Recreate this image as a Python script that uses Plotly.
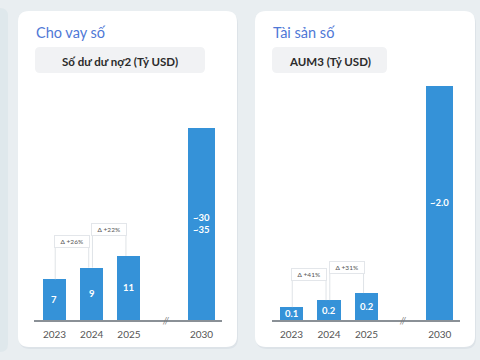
import plotly.graph_objects as go

# ---------------- data ----------------
years = ["2023", "2024", "2025", "2030"]
x_pos = [0, 1, 2, 3.95]

loan_values = [7, 9, 11, 33]
loan_labels = ["7", "9", "11", "~30<br>~35"]
loan_deltas = ["Δ +26%", "Δ +22%"]

aum_values = [0.11, 0.17, 0.23, 2.0]
aum_labels = ["0.1", "0.2", "0.2", "~2.0"]
aum_deltas = ["Δ +41%", "Δ +31%"]

titles = ["Cho vay số", "Tài sản số"]
subtitles = ["Số dư dư nợ2 (Tỷ USD)", "AUM3 (Tỷ USD)"]

# ---------------- layout constants ----------------
W, H = 480, 360
BG = "#e9eef1"
BAR = "#3592d8"
FONT = "Lato"

y_dom = [40 / H, 1 - 80 / H]
dom_px = (y_dom[1] - y_dom[0]) * H
panels = [
    dict(values=loan_values, labels=loan_labels, deltas=loan_deltas,
         xdom=[34 / W, 222 / W], xr=[-0.55, 4.5], yr=[0, 41.2],
         card=[18, 237], title_x=35, sub=[35, 205]),
    dict(values=aum_values, labels=aum_labels, deltas=aum_deltas,
         xdom=[272 / W, 460 / W], xr=[-0.52, 4.49], yr=[0, 2.05],
         card=[255, 475], title_x=272, sub=[272, 387]),
]

fig = go.Figure()
shapes = []
annotations = []


def rounded(x0, y0, x1, y1, r):
    # pixel coords from top-left -> paper coords
    def P(x, y):
        return f"{x / W:.5f},{1 - y / H:.5f}"
    return (f"M {P(x0 + r, y0)} L {P(x1 - r, y0)} Q {P(x1, y0)} {P(x1, y0 + r)} "
            f"L {P(x1, y1 - r)} Q {P(x1, y1)} {P(x1 - r, y1)} "
            f"L {P(x0 + r, y1)} Q {P(x0, y1)} {P(x0, y1 - r)} "
            f"L {P(x0, y0 + r)} Q {P(x0, y0)} {P(x0 + r, y0)} Z")


# partial card at far left
shapes.append(dict(type="path", xref="paper", yref="paper",
                   path=rounded(-30, 8, 8, 352, 8),
                   fillcolor="#dfe8ec", line=dict(width=0), layer="below"))

for i, p in enumerate(panels):
    ax = "" if i == 0 else str(i + 1)
    xa, ya = "x" + ax, "y" + ax
    cx0, cx1 = p["card"]
    # card
    shapes.append(dict(type="path", xref="paper", yref="paper",
                       path=rounded(cx0 + 1, 13, cx1 + 1, 349, 11),
                       fillcolor="#dde3e8", line=dict(width=0), layer="below"))
    shapes.append(dict(type="path", xref="paper", yref="paper",
                       path=rounded(cx0, 11, cx1, 347, 11),
                       fillcolor="white", line=dict(width=0), layer="below"))
    # subtitle box
    sx0, sx1 = p["sub"]
    shapes.append(dict(type="path", xref="paper", yref="paper",
                       path=rounded(sx0, 47, sx1, 73, 5),
                       fillcolor="#f1f2f4", line=dict(width=0), layer="below"))
    annotations.append(dict(xref="paper", yref="paper", x=(p["title_x"] - 1) / W, y=1 - 32 / H,
                            text=titles[i], showarrow=False, xanchor="left", yanchor="middle",
                            font=dict(family=FONT, size=14.5, color="#4f78d6")))
    annotations.append(dict(xref="paper", yref="paper", x=(sx0 + sx1) / 2 / W, y=1 - 61 / H,
                            text="<b>" + subtitles[i] + "</b>", showarrow=False,
                            xanchor="center", yanchor="middle",
                            font=dict(family=FONT, size=11.5, color="#2b2b2b")))

    vals = p["values"]
    fig.add_trace(go.Bar(x=x_pos, y=vals, width=[0.62, 0.62, 0.62, 0.72],
                         marker=dict(color=BAR, line=dict(width=0)),
                         xaxis=xa, yaxis=ya, hoverinfo="skip"))
    for xv, v, lab in zip(x_pos, vals, p["labels"]):
        annotations.append(dict(xref=xa, yref=ya, x=xv, y=v / 2, text="<b>" + lab + "</b>",
                                showarrow=False, font=dict(family=FONT, size=9.5, color="white")))

    ppu = dom_px / (p["yr"][1] - p["yr"][0])  # pixels per data unit
    for k, d in enumerate(p["deltas"]):
        top = max(vals[k], vals[k + 1])
        box_y = top + 26 / ppu
        xa0, xa1 = x_pos[k] + 0.02, x_pos[k + 1] - 0.08
        for xv, base in ((xa0, vals[k]), (xa1, vals[k + 1])):
            shapes.append(dict(type="line", xref=xa, yref=ya, x0=xv, x1=xv,
                               y0=base, y1=box_y - 5 / ppu,
                               line=dict(color="#dfe3e7", width=1)))
        annotations.append(dict(xref=xa, yref=ya, x=(xa0 + xa1) / 2, y=box_y,
                                text=d, showarrow=False, bgcolor="white",
                                bordercolor="#e3e6ea", borderwidth=1, borderpad=2,
                                width=(xa1 - xa0) * 37.4 - 4,
                                font=dict(family=FONT, size=6.5, color="#555")))
    # axis break mark
    annotations.append(dict(xref=xa, yref=ya, x=2.97, y=0, text="<i>//</i>",
                            showarrow=False, font=dict(family=FONT, size=9, color="#777")))

    fig.layout["xaxis" + ax] = dict(domain=p["xdom"], range=p["xr"], tickvals=x_pos,
                                    ticktext=years, showgrid=False, zeroline=False,
                                    showline=True, linecolor="#8a9096", linewidth=1.5,
                                    ticks="", anchor=ya, fixedrange=True,
                                    ticklabelstandoff=4,
                                    tickfont=dict(family=FONT, size=10, color="#555"))
    fig.layout["yaxis" + ax] = dict(domain=y_dom, range=p["yr"], visible=False,
                                    anchor=xa, fixedrange=True)

fig.update_layout(width=W, height=H, margin=dict(l=0, r=0, t=0, b=0),
                  paper_bgcolor=BG, plot_bgcolor="rgba(0,0,0,0)",
                  showlegend=False, bargap=0, shapes=shapes, annotations=annotations)

fig.write_html("out.html", config={"displayModeBar": False},
               post_script="document.body.style.margin='0';document.body.style.background='" + BG + "';")
